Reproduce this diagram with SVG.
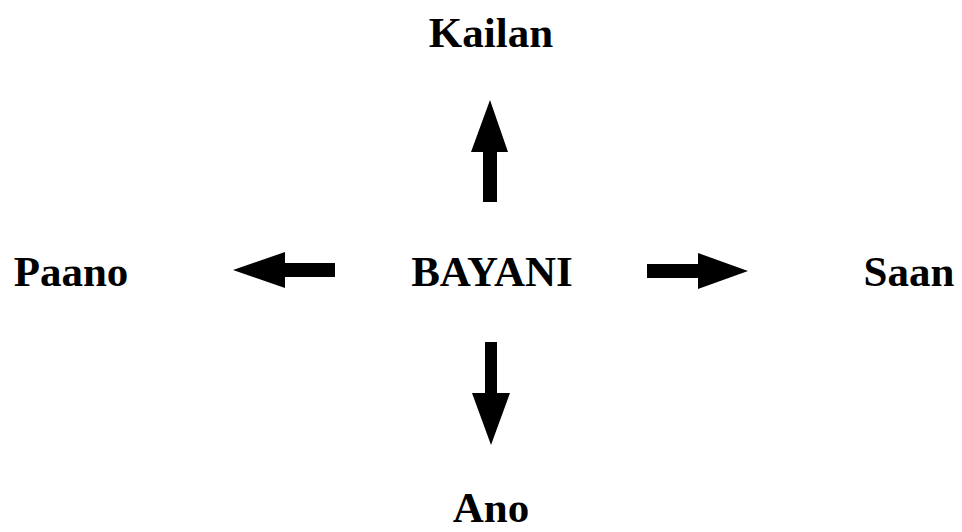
<svg xmlns="http://www.w3.org/2000/svg" width="962" height="532" viewBox="0 0 962 532">
<style>
.t{font-family:"Liberation Serif","DejaVu Serif",serif;font-weight:bold;font-size:43px;fill:#000;text-anchor:middle}
.a{fill:#000;stroke:none}
</style>
<rect width="962" height="532" fill="#fff"/>
<g id="connectors">
<polygon class="a" points="490,100 508,152 497,152 497,202 483,202 483,152 471,152"/>
<polygon class="a" points="233,270 285,252 285,263 335,263 335,277 285,277 285,288"/>
<polygon class="a" points="748,271 698,253 698,264 647,264 647,278 698,278 698,289"/>
<polygon class="a" points="491,445 510,393 497,393 497,342 485,342 485,393 472,393"/>
</g>
<g id="bayani"><text class="t" x="492" y="286">BAYANI</text></g>
<g id="kailan"><text class="t" x="491" y="47">Kailan</text></g>
<g id="paano"><text class="t" x="71" y="286">Paano</text></g>
<g id="saan"><text class="t" x="909" y="286">Saan</text></g>
<g id="ano"><text class="t" x="491" y="522">Ano</text></g>
</svg>
